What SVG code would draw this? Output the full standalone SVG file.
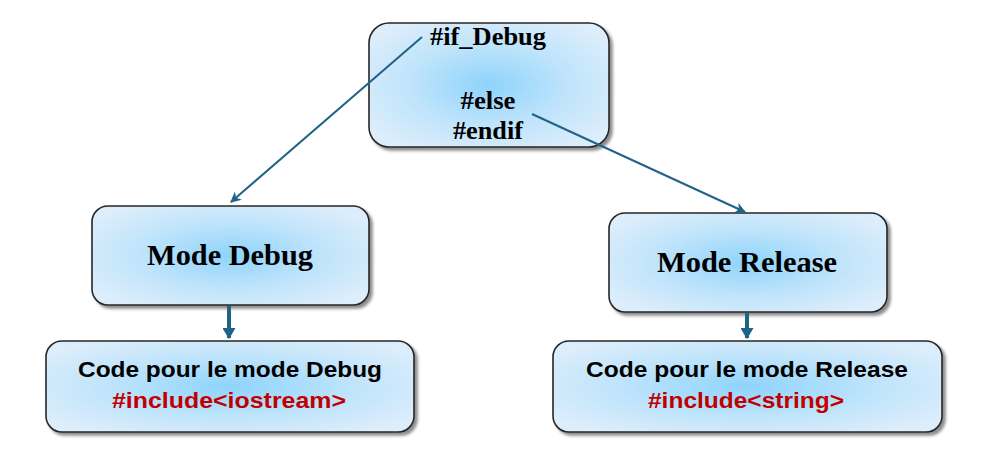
<svg xmlns="http://www.w3.org/2000/svg" width="986" height="456" viewBox="0 0 986 456">
<defs>
<radialGradient id="g" cx="50%" cy="50%" r="60%">
<stop offset="0" stop-color="#8ed3fb"/>
<stop offset="0.55" stop-color="#bfe4fb"/>
<stop offset="1" stop-color="#dcedfb"/>
</radialGradient>
<filter id="sh" x="-10%" y="-10%" width="125%" height="130%">
<feDropShadow dx="3" dy="3" stdDeviation="1.5" flood-color="#000" flood-opacity="0.45"/>
</filter>
<marker id="a1" viewBox="0 0 10 10" refX="9" refY="5" markerWidth="5.5" markerHeight="5.5" orient="auto" markerUnits="strokeWidth">
<path d="M0,0 L10,5 L0,10 L3,5 z" fill="#1f6388"/>
</marker>
<marker id="a2" viewBox="0 0 10 10" refX="9" refY="5" markerWidth="11" markerHeight="13" orient="auto" markerUnits="userSpaceOnUse" preserveAspectRatio="none">
<path d="M0,0 L10,5 L0,10 z" fill="#1f6388"/>
</marker>
</defs>
<style>
.box{fill:url(#g);stroke:#262626;stroke-width:1.6;filter:url(#sh)}
.ser{font-family:"Liberation Serif","Times New Roman",serif;font-weight:bold;fill:#000;text-anchor:middle}
.san{font-family:"Liberation Sans",Arial,sans-serif;font-weight:bold;text-anchor:middle;font-size:22px}
.red{fill:#c00000}
.blk{fill:#000}
.ln{stroke:#1f6388;fill:none}
</style>
<rect width="986" height="456" fill="#fff"/>
<g id="node-if">
<rect class="box" x="369" y="23" width="240" height="124" rx="20"/>
<text class="ser" x="488" y="45" font-size="25" textLength="116" lengthAdjust="spacingAndGlyphs">#if_Debug</text>
<text class="ser" x="488" y="109" font-size="25" textLength="55" lengthAdjust="spacingAndGlyphs">#else</text>
<text class="ser" x="488" y="139" font-size="25" textLength="70" lengthAdjust="spacingAndGlyphs">#endif</text>
</g>
<g id="node-mode-debug">
<rect class="box" x="92" y="206" width="277" height="99" rx="16"/>
<text class="ser" x="230" y="265" font-size="30" textLength="166" lengthAdjust="spacingAndGlyphs">Mode Debug</text>
</g>
<g id="node-mode-release">
<rect class="box" x="609" y="213" width="278" height="99" rx="16"/>
<text class="ser" x="747" y="272" font-size="30" textLength="180" lengthAdjust="spacingAndGlyphs">Mode Release</text>
</g>
<g id="node-code-debug">
<rect class="box" x="46" y="341" width="368" height="91" rx="16"/>
<text class="san blk" x="230" y="377" textLength="304" lengthAdjust="spacingAndGlyphs">Code pour le mode Debug</text>
<text class="san red" x="229" y="408" textLength="234" lengthAdjust="spacingAndGlyphs">#include&lt;iostream&gt;</text>
</g>
<g id="node-code-release">
<rect class="box" x="553" y="341" width="389" height="91" rx="16"/>
<text class="san blk" x="747" y="377" textLength="322" lengthAdjust="spacingAndGlyphs">Code pour le mode Release</text>
<text class="san red" x="746" y="408" textLength="196" lengthAdjust="spacingAndGlyphs">#include&lt;string&gt;</text>
</g>
<g id="connectors">
<line class="ln" x1="422" y1="37" x2="231" y2="202" stroke-width="2" marker-end="url(#a1)"/>
<line class="ln" x1="532" y1="114" x2="745" y2="212" stroke-width="2" marker-end="url(#a1)"/>
<line class="ln" x1="229" y1="306" x2="229" y2="338" stroke-width="4" marker-end="url(#a2)"/>
<line class="ln" x1="747" y1="313" x2="747" y2="338" stroke-width="4" marker-end="url(#a2)"/>
</g>
</svg>
